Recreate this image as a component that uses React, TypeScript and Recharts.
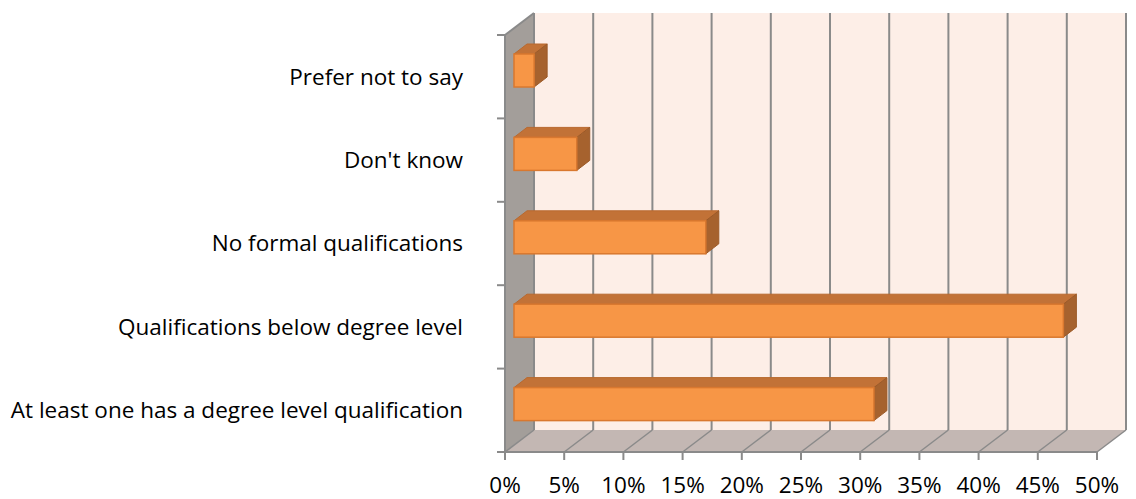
import React from 'react';
import { BarChart, Bar, XAxis, YAxis, ReferenceArea } from 'recharts';

const categories = [
  'Prefer not to say',
  "Don't know",
  'No formal qualifications',
  'Qualifications below degree level',
  'At least one has a degree level qualification',
];
const shares = [0.017, 0.053, 0.162, 0.464, 0.304];
const xTicks = [0, 0.05, 0.1, 0.15, 0.2, 0.25, 0.3, 0.35, 0.4, 0.45, 0.5];

const data = categories.map((name, i) => ({ name, value: shares[i] }));

// oblique 3D offsets (Excel-style 3D bar)
const DEPTH_X = 29;
const DEPTH_Y = -22;
const BAR_SHIFT_X = 9;
const BAR_SHIFT_Y = -6;
const BAR_DX = 13;
const BAR_DY = -10;
const X_MAX = 0.5;

const FONT = '"Open Sans", sans-serif';

const Walls = (props: any) => {
  const { x, y, width, height } = props;
  const right = x + width;
  const bottom = y + height;
  const grid = '#8a8a8a';
  return (
    <g>
      {/* back wall */}
      <rect x={x + DEPTH_X} y={y + DEPTH_Y} width={width} height={height} fill="#fdeee7" />
      {/* left wall */}
      <polygon
        points={`${x},${y} ${x + DEPTH_X},${y + DEPTH_Y} ${x + DEPTH_X},${bottom + DEPTH_Y} ${x},${bottom}`}
        fill="#a39e9a"
      />
      {/* floor */}
      <polygon
        points={`${x},${bottom} ${x + DEPTH_X},${bottom + DEPTH_Y} ${right + DEPTH_X},${bottom + DEPTH_Y} ${right},${bottom}`}
        fill="#c3b7b3"
      />
      <line x1={x} y1={y} x2={x + DEPTH_X} y2={y + DEPTH_Y} stroke={grid} strokeWidth={2} />
      <line x1={x + DEPTH_X} y1={y + DEPTH_Y} x2={x + DEPTH_X} y2={bottom + DEPTH_Y} stroke={grid} strokeWidth={2} />
      {xTicks.map((t) => {
        const gx = x + (width * t) / X_MAX;
        return (
          <g key={t}>
            {t > 0 && (
              <line x1={gx + DEPTH_X} y1={y + DEPTH_Y} x2={gx + DEPTH_X} y2={bottom + DEPTH_Y} stroke={grid} strokeWidth={2} />
            )}
            <line x1={gx} y1={bottom} x2={gx + DEPTH_X} y2={bottom + DEPTH_Y} stroke={grid} strokeWidth={1.5} />
          </g>
        );
      })}
      {categories.map((c, i) => {
        const ty = y + (height * i) / categories.length;
        return <line key={c} x1={x - 8} y1={ty} x2={x} y2={ty} stroke={grid} strokeWidth={2} />;
      })}
      <line x1={x - 8} y1={bottom} x2={x} y2={bottom} stroke={grid} strokeWidth={2} />
    </g>
  );
};

const Box3D = (props: any) => {
  const { x, y, width, height } = props;
  const fx = x + BAR_SHIFT_X;
  const fy = y + BAR_SHIFT_Y;
  const w = width;
  const h = height;
  return (
    <g>
      <polygon
        points={`${fx},${fy} ${fx + BAR_DX},${fy + BAR_DY} ${fx + w + BAR_DX},${fy + BAR_DY} ${fx + w},${fy}`}
        fill="#c27237"
        stroke="#b8692f"
        strokeWidth={1}
      />
      <polygon
        points={`${fx + w},${fy} ${fx + w + BAR_DX},${fy + BAR_DY} ${fx + w + BAR_DX},${fy + h + BAR_DY} ${fx + w},${fy + h}`}
        fill="#a6622e"
        stroke="#9c5a28"
        strokeWidth={1}
      />
      <rect x={fx} y={fy} width={w} height={h} fill="#f79646" stroke="#d9782f" strokeWidth={1.5} />
    </g>
  );
};

export default function App() {
  return (
    <div style={{ position: 'absolute', left: 0, top: 0 }}>
      <BarChart
        width={1136}
        height={499}
        data={data}
        layout="vertical"
        margin={{ top: 35, right: 39, bottom: 0, left: 0 }}
        barSize={33}
      >
        <XAxis
          type="number"
          domain={[0, X_MAX]}
          ticks={xTicks}
          interval={0}
          tickFormatter={(v: number) => `${Math.round(v * 100)}%`}
          axisLine={{ stroke: '#8a8a8a', strokeWidth: 2 }}
          tickLine={{ stroke: '#8a8a8a', strokeWidth: 2 }}
          tickSize={8}
          tickMargin={17}
          height={47}
          tick={{ fill: '#000', fontSize: 22.5, fontFamily: FONT }}
        />
        <YAxis
          type="category"
          dataKey="name"
          width={505}
          axisLine={{ stroke: '#8a8a8a', strokeWidth: 2 }}
          tickLine={false}
          tickSize={0}
          tickMargin={42}
          interval={0}
          tick={{ fill: '#000', fontSize: 22.5, fontFamily: FONT }}
        />
        <ReferenceArea x1={0} x2={X_MAX} shape={<Walls />} ifOverflow="visible" />
        <Bar dataKey="value" shape={<Box3D />} isAnimationActive={false} />
      </BarChart>
    </div>
  );
}
